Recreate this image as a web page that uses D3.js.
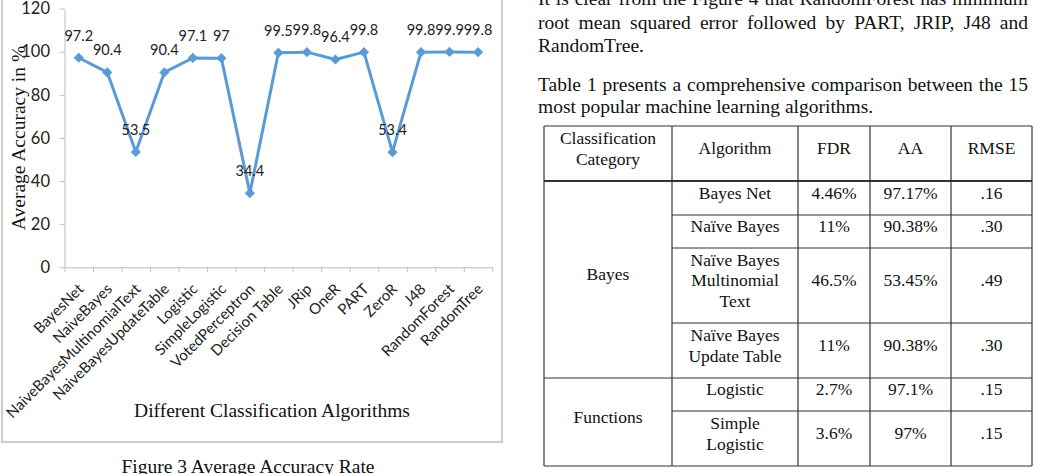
<!DOCTYPE html>
<html>
<head>
<meta charset="utf-8">
<script src="https://cdn.jsdelivr.net/npm/d3@7/dist/d3.min.js"></script>
<style>
  html, body { margin: 0; padding: 0; background: #fff; }
  svg { display: block; }
  .serif { font-family: "Liberation Serif", "Times New Roman", serif; fill: #111; }
  .sans  { font-family: Lato, "Open Sans", sans-serif; fill: #222; }
</style>
</head>
<body>
<svg id="page" width="1050" height="474"></svg>
<script>
// ── Chart data ─────────────────────────────────────────────────────────────
const algorithms = [
  'BayesNet', 'NaiveBayes', 'NaiveBayesMultinomialText', 'NaiveBayesUpdateTable',
  'Logistic', 'SimpleLogistic', 'VotedPerceptron', 'Decision Table', 'JRip',
  'OneR', 'PART', 'ZeroR', 'J48', 'RandomForest', 'RandomTree'
];
const accuracy = [97.2, 90.4, 53.5, 90.4, 97.1, 97, 34.4, 99.5, 99.8, 96.4, 99.8, 53.4, 99.8, 99.9, 99.8];
const yTicks   = [0, 20, 40, 60, 80, 100, 120];

const yTitle   = 'Average Accuracy in %';
const xTitle   = 'Different Classification Algorithms';
const caption  = 'Figure 3 Average Accuracy Rate';

// ── Body text ──────────────────────────────────────────────────────────────
const bodyLines = [
  'It is clear from the Figure 4 that RandomForest has minimum',
  'root mean squared error followed by PART, JRIP, J48 and',
  'RandomTree.',
  'Table 1 presents a comprehensive comparison between the 15',
  'most popular machine learning algorithms.'
];
const justified = [true, true, false, true, false];

// ── Table data ─────────────────────────────────────────────────────────────
const tblHeader     = [['Classification', 'Category'], ['Algorithm'], ['FDR'], ['AA'], ['RMSE']];
const tblAlgorithm  = [['Bayes Net'], ['Naïve Bayes'], ['Naïve Bayes', 'Multinomial', 'Text'],
                       ['Naïve Bayes', 'Update Table'], ['Logistic'], ['Simple', 'Logistic']];
const tblFDR        = ['4.46%', '11%', '46.5%', '11%', '2.7%', '3.6%'];
const tblAA         = ['97.17%', '90.38%', '53.45%', '90.38%', '97.1%', '97%'];
const tblRMSE       = ['.16', '.30', '.49', '.30', '.15', '.15'];
const tblGroups     = ['Bayes', 'Functions'];
const tblGroupSize  = [4, 2];

const svg = d3.select('#page');

// ── Chart ──────────────────────────────────────────────────────────────────
const plot = { left: 64.5, right: 492.3, top: 8.6, bottom: 267.3 };
const LINE_BLUE = '#5b9bd5';
const AXIS_GREY = '#bfbfbf';

svg.append('rect')
  .attr('x', 2).attr('y', -6).attr('width', 500).attr('height', 448)
  .attr('fill', 'none').attr('stroke', '#c8c8c8').attr('stroke-width', 1.8);

const x = d3.scaleBand().domain(algorithms).range([plot.left, plot.right]).padding(0);
const xEdge = d3.scaleLinear().domain([0, algorithms.length]).range([plot.left, plot.right]);
const y = d3.scaleLinear().domain([0, 120]).range([plot.bottom, plot.top]);

// y axis
const yAxisG = svg.append('g')
  .attr('transform', `translate(${plot.left},0)`)
  .call(d3.axisLeft(y).tickValues(yTicks).tickSize(5).tickSizeOuter(0).tickPadding(9.5));
yAxisG.selectAll('path, line').attr('stroke', AXIS_GREY);
yAxisG.selectAll('text').attr('class', 'sans').style('font-size', '16.5px').attr('fill', null);

// x axis: boundary ticks
const xAxisG = svg.append('g')
  .attr('transform', `translate(0,${plot.bottom})`)
  .call(d3.axisBottom(xEdge).tickValues(d3.range(algorithms.length + 1)).tickSize(5).tickSizeOuter(0).tickFormat(''));
xAxisG.selectAll('path, line').attr('stroke', AXIS_GREY);

// x axis: rotated category labels
const xLabG = svg.append('g')
  .attr('transform', `translate(0,${plot.bottom})`)
  .call(d3.axisBottom(x).tickSize(0));
xLabG.select('.domain').remove();
xLabG.selectAll('text')
  .attr('class', 'sans').attr('fill', null)
  .style('font-size', '15px')
  .attr('text-anchor', 'end')
  .attr('x', 0).attr('y', 0).attr('dy', '0.35em')
  .attr('transform', 'translate(2,19) rotate(-45)');

// series line + markers
const pts = algorithms.map((a, i) => ({ name: a, v: accuracy[i] }));
const cx = d => x(d.name) + x.bandwidth() / 2;

svg.append('path')
  .datum(pts)
  .attr('fill', 'none')
  .attr('stroke', LINE_BLUE)
  .attr('stroke-width', 3)
  .attr('stroke-linejoin', 'round')
  .attr('d', d3.line().x(cx).y(d => y(d.v)));

svg.append('g').selectAll('path')
  .data(pts).join('path')
  .attr('d', d3.symbol(d3.symbolSquare, 52))
  .attr('fill', LINE_BLUE)
  .attr('transform', d => `translate(${cx(d)},${y(d.v)}) rotate(45)`);

svg.append('g').selectAll('text')
  .data(pts).join('text')
  .attr('class', 'sans')
  .style('font-size', '14.5px')
  .attr('text-anchor', 'middle')
  .attr('x', cx)
  .attr('y', d => y(d.v) - 17)
  .text(d => d.v);

// titles
svg.append('text')
  .attr('class', 'serif').style('font-size', '19.5px')
  .attr('text-anchor', 'middle')
  .attr('transform', 'translate(25,138) rotate(-90)')
  .text(yTitle);

svg.append('text')
  .attr('class', 'serif').style('font-size', '19.5px')
  .attr('text-anchor', 'middle')
  .attr('x', 272).attr('y', 416.5)
  .text(xTitle);

svg.append('text')
  .attr('class', 'serif').style('font-size', '19.5px')
  .attr('text-anchor', 'middle')
  .attr('x', 248).attr('y', 473)
  .text(caption);

// ── Body paragraph (justified lines) ───────────────────────────────────────
const TEXT_LEFT = 538, TEXT_W = 490;
const baselines = [5, 28.5, 52, 90.5, 113];
bodyLines.forEach((line, i) => {
  const t = svg.append('text')
    .attr('class', 'serif').style('font-size', '19.5px')
    .attr('x', TEXT_LEFT).attr('y', baselines[i])
    .text(line);
  if (justified[i]) {
    const natural = t.node().getComputedTextLength();
    const gaps = line.split(' ').length - 1;
    t.style('word-spacing', `${(TEXT_W - natural) / gaps}px`);
  }
});

// ── Table ──────────────────────────────────────────────────────────────────
const colEdges = [544, 672, 798, 870, 951, 1032];
const rowEdges = [126, 181, 215, 248, 323, 378, 411, 466];
const TBL_FS = 17.5, LINE_H = 20.5, LIFT = 5;
const tbl = svg.append('g');

function cellText(lines, x0, x1, y0, y1) {
  const mid = (y0 + y1) / 2 - LIFT;
  const first = mid - (lines.length - 1) * LINE_H / 2;
  lines.forEach((s, k) => {
    tbl.append('text')
      .attr('class', 'serif').style('font-size', `${TBL_FS}px`)
      .attr('text-anchor', 'middle')
      .attr('x', (x0 + x1) / 2)
      .attr('y', first + k * LINE_H + TBL_FS * 0.33)
      .text(s);
  });
}

// header
tblHeader.forEach((h, c) => cellText(h, colEdges[c], colEdges[c + 1], rowEdges[0], rowEdges[1]));

// body rows
tblAlgorithm.forEach((alg, r) => {
  const y0 = rowEdges[r + 1], y1 = rowEdges[r + 2];
  [alg, [tblFDR[r]], [tblAA[r]], [tblRMSE[r]]].forEach((cell, c) =>
    cellText(cell, colEdges[c + 1], colEdges[c + 2], y0, y1));
});

// group cells
let start = 0;
tblGroups.forEach((g, gi) => {
  const y0 = rowEdges[start + 1], y1 = rowEdges[start + 1 + tblGroupSize[gi]];
  cellText([g], colEdges[0], colEdges[1], y0, y1);
  start += tblGroupSize[gi];
});

// grid lines
const STROKE = '#333';
colEdges.forEach(cx0 => tbl.append('line')
  .attr('x1', cx0).attr('x2', cx0).attr('y1', rowEdges[0]).attr('y2', rowEdges[rowEdges.length - 1])
  .attr('stroke', STROKE).attr('stroke-width', 1.2));

rowEdges.forEach((ry, i) => {
  // group boundaries span all columns, inner rows only the right-hand columns
  const groupBounds = [0, 1, 1 + tblGroupSize[0], rowEdges.length - 1];
  const full = groupBounds.includes(i);
  tbl.append('line')
    .attr('x1', full ? colEdges[0] : colEdges[1]).attr('x2', colEdges[colEdges.length - 1])
    .attr('y1', ry).attr('y2', ry)
    .attr('stroke', STROKE)
    .attr('stroke-width', i === 1 ? 2.2 : 1.2);
});
</script>
</body>
</html>
